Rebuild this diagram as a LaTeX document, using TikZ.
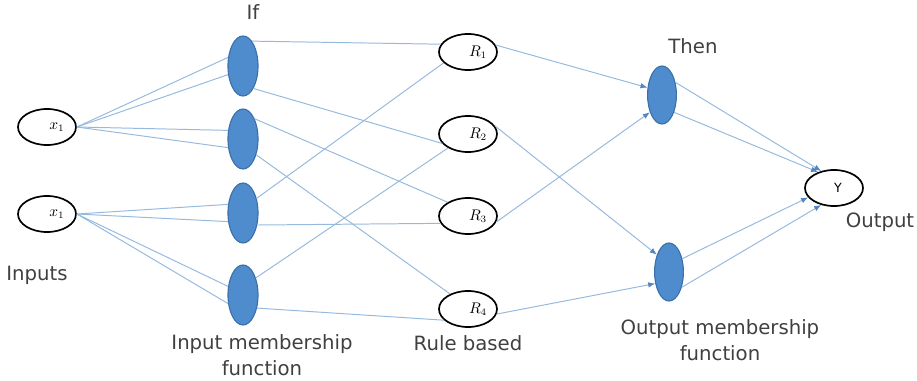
\documentclass[tikz,border=0pt]{standalone}
\usepackage{fontspec}
\setmainfont{DejaVu Sans}
\usetikzlibrary{arrows.meta,shapes.geometric}
\definecolor{lineblue}{RGB}{150,186,222}
\definecolor{mfblue}{RGB}{79,140,206}
\definecolor{mfedge}{RGB}{58,112,170}
\definecolor{tipblue}{RGB}{84,134,192}

\begin{document}
\begin{tikzpicture}[x=0.025cm, y=-0.025cm,
	inp/.style={ellipse, draw=black, line width=1.2pt, minimum width=1.45cm, minimum height=0.9cm, inner sep=0pt, font=\fontsize{10.5}{12}\selectfont},
	mf/.style={ellipse, draw=mfedge, fill=mfblue, line width=0.8pt, minimum width=0.75cm, minimum height=1.5cm, inner sep=0pt},
	lbl/.style={font=\fontsize{14}{18.5}\selectfont, text=black!75, align=center},
	every edge/.style={draw=lineblue, line width=0.7pt},
	arr/.style={-{Latex[length=5pt,width=4pt,color=tipblue]}}]
			\useasboundingbox (0,0) rectangle (917,381);
			
			\node[inp] (in1) at (47,127){\hspace{0.5cm}$x_1$};
			\node[inp] (in2) at (47,214){\hspace{0.5cm}$x_1$};
			\node[mf] (m1) at (243,66){};
			\node[mf] (m2) at (243,139){};
			\node[mf] (m3) at (243,213){};
			\node[mf] (m4) at (243,295){};
			\node[inp] (r1) at (468,52){\hspace{0.5cm}$R_1$};
			\node[inp] (r2) at (468,134){\hspace{0.5cm}$R_2$};
			\node[inp] (r3) at (468,216){\hspace{0.5cm}$R_3$};
			\node[inp] (r4) at (468,309){\hspace{0.5cm}$R_4$};
			\node[mf, minimum width=0.72cm, minimum height=1.45cm] (o1) at (662,95){};
			\node[mf, minimum width=0.72cm, minimum height=1.45cm] (o2) at (669,272){};
			\node[inp] (y) at (834,188){\hspace{0.2cm}\small Y};
			
			\node[lbl] (tif) at (253,12){If};
			\node[lbl] (tin) at (37,275){Inputs};
			\node[lbl] (timf) at (262,355){Input membership\\function};
			\node[lbl] (trule) at (468,343){Rule based};
			\node[lbl] (tthen) at (693,46){Then};
			\node[lbl] (tomf) at (720,340){Output membership\\function};
			\node[lbl] (tout) at (880,222){Output};
			
			\path (in1.east) edge (m1.150) edge (m1.210) edge (m2.150) edge (m2.210);
			\path (in2.east) edge (m3.150) edge (m3.210) edge (m4.150) edge (m4.210);
			
			\path (m1.70) edge (r1.164);
			\path (m1.295) edge (r2.200);
			\path (m2.60) edge (r3.146);
			\path (m2.310) edge (r4.140);
			\path (m3.47) edge (r1.204);
			\path (m3.320) edge (r3.195);
			\path (m4.53) edge (r2.215);
			\path (m4.317) edge (r4.205);
			
			\path (r1.14) edge[arr] (o1.153);
			\path (r2.17) edge[arr] (o2.125);
			\path (r3.348) edge[arr] (o1.235);
			\path (r4.350) edge[arr] (o2.220);
			\path (o1.43) edge[arr] (y.127);
			\path (o1.305) edge[arr] (y.135);
			\path (o2.45) edge[arr] (y.200);
			\path (o2.310) edge[arr] (y.233);
			\end{tikzpicture}
\end{document}
